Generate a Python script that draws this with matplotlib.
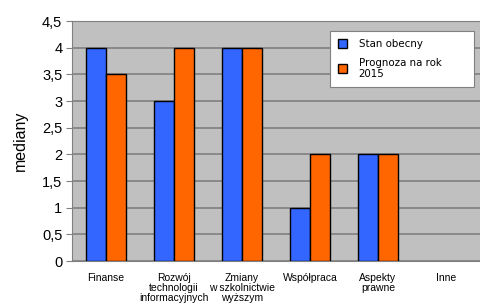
import matplotlib
matplotlib.use("Agg")
import matplotlib.pyplot as plt
import numpy as np

categories = ["Finanse", "Rozwój\ntechnologii\ninformacyjnych", "Zmiany\nw szkolnictwie\nwyższym",
              "Współpraca", "Aspekty\nprawne", "Inne"]
stan_obecny = [4, 3, 4, 1, 2, 0]
prognoza_2015 = [3.5, 4, 4, 2, 2, 0]
yticks = [0, 0.5, 1, 1.5, 2, 2.5, 3, 3.5, 4, 4.5]
ytick_labels = ["0", "0,5", "1", "1,5", "2", "2,5", "3", "3,5", "4", "4,5"]

fig = plt.figure(figsize=(4.8, 3.05), dpi=100)
ax = fig.add_axes([0.15, 0.144, 0.85, 0.787])
ax.set_facecolor("#C0C0C0")

x = np.arange(len(categories))
w = 0.29
# zero-valued bars are not drawn with an outline
lw_a = [1 if v else 0 for v in stan_obecny]
lw_b = [1 if v else 0 for v in prognoza_2015]
ax.bar(x - w / 2, stan_obecny, w, color="#3366FF", edgecolor="black", linewidth=lw_a,
       label="Stan obecny", zorder=3)
ax.bar(x + w / 2, prognoza_2015, w, color="#FF6600", edgecolor="black", linewidth=lw_b,
       label="Prognoza na rok\n2015", zorder=3)

ax.set_xlim(-0.5, 5.5)
ax.set_ylim(0, 4.5)
ax.set_yticks(yticks)
ax.set_yticklabels(ytick_labels, fontsize=10.5, family="Liberation Sans")
ax.yaxis.grid(True, color="#808080", linewidth=1.2, zorder=1)
ax.set_xticks(x)
ax.set_xticklabels(categories, fontsize=7.5, family="Liberation Sans", linespacing=0.98)
ax.tick_params(axis="x", length=0, pad=8.5)
ax.tick_params(axis="y", length=4, color="#808080", pad=3)
ax.set_ylabel("mediany", fontsize=11.5, family="Liberation Sans", labelpad=10)

ax.spines["right"].set_visible(False)
for s in ["left", "bottom", "top"]:
    ax.spines[s].set_color("#808080")

leg = ax.legend(loc="upper left", bbox_to_anchor=(0.632, 0.733, 0.353, 0.225), mode="expand",
                fontsize=7.4, frameon=True, fancybox=False, edgecolor="#808080",
                facecolor="white", framealpha=1, handlelength=0.95, handleheight=0.95,
                borderpad=0.75, labelspacing=0.85, handletextpad=1.1, borderaxespad=0)
leg.get_frame().set_linewidth(0.8)

fig.savefig("out.png", dpi=100)
